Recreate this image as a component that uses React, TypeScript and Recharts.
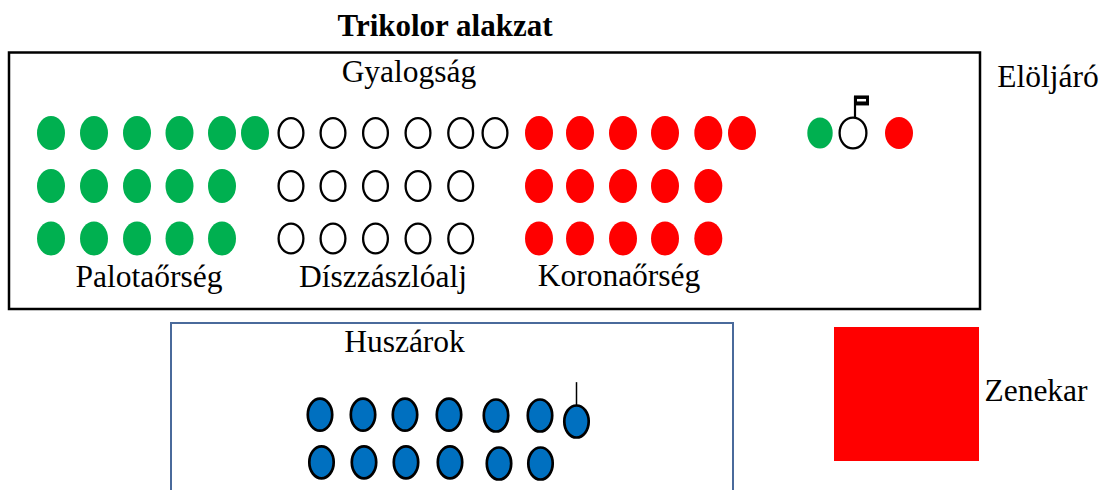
import React from 'react';
import { ScatterChart, Scatter, XAxis, YAxis, ReferenceArea } from 'recharts';

// ---- data (diagram coordinates) ----
const palotaorseg = [
  { x: 51, y: 133 }, { x: 94, y: 133 }, { x: 137, y: 133 }, { x: 179.5, y: 133 }, { x: 222, y: 133 }, { x: 255, y: 133 },
  { x: 51, y: 186 }, { x: 94, y: 186 }, { x: 137, y: 186 }, { x: 179.5, y: 186 }, { x: 222, y: 186 },
  { x: 51, y: 238.5 }, { x: 94, y: 238.5 }, { x: 137, y: 238.5 }, { x: 179.5, y: 238.5 }, { x: 222, y: 238.5 },
];
const diszzaszloalj = [
  { x: 291, y: 133 }, { x: 333, y: 133 }, { x: 375.5, y: 133 }, { x: 418, y: 133 }, { x: 460.7, y: 133 }, { x: 495, y: 133 },
  { x: 291, y: 186 }, { x: 333, y: 186 }, { x: 375.5, y: 186 }, { x: 418, y: 186 }, { x: 460.7, y: 186 },
  { x: 291, y: 238.5 }, { x: 333, y: 238.5 }, { x: 375.5, y: 238.5 }, { x: 418, y: 238.5 }, { x: 460.7, y: 238.5 },
];
const koronaorseg = [
  { x: 539, y: 133 }, { x: 580, y: 133 }, { x: 623, y: 133 }, { x: 665, y: 133 }, { x: 708.3, y: 133 }, { x: 742, y: 133 },
  { x: 539, y: 186 }, { x: 580, y: 186 }, { x: 623, y: 186 }, { x: 665, y: 186 }, { x: 708.3, y: 186 },
  { x: 539, y: 238.5 }, { x: 580, y: 238.5 }, { x: 623, y: 238.5 }, { x: 665, y: 238.5 }, { x: 708.3, y: 238.5 },
];
const eloljaroGreen = [{ x: 820, y: 133 }];
const eloljaroWhite = [{ x: 853, y: 133, flag: true }];
const eloljaroRed = [{ x: 899, y: 133 }];
const huszarok = [
  { x: 320, y: 414.7 }, { x: 363, y: 414.7 }, { x: 405, y: 414.7 }, { x: 449, y: 414.7 }, { x: 496, y: 415.5 }, { x: 540, y: 415.5 },
  { x: 576.5, y: 421.5, flag: true },
  { x: 321.5, y: 462.3 }, { x: 364, y: 462.3 }, { x: 406, y: 462.3 }, { x: 450, y: 462.3 }, { x: 499, y: 463.5 }, { x: 540.5, y: 463.5 },
];

const titleLabel = [{ x: 445, y: 36, text: 'Trikolor alakzat' }];
const groupLabels = [
  { x: 409, y: 82, text: 'Gyalogság' },
  { x: 149, y: 287, text: 'Palotaőrség' },
  { x: 383, y: 287, text: 'Díszzászlóalj' },
  { x: 619, y: 286, text: 'Koronaőrség' },
  { x: 1048, y: 87, text: 'Elöljáró' },
  { x: 404.5, y: 352, text: 'Huszárok' },
  { x: 1036, y: 401, text: 'Zenekar' },
];

const infantryBox = { x1: 9, x2: 980, y1: 52.5, y2: 309 };
const hussarBox = { x1: 171, x2: 733, y1: 323, y2: 500 };
const bandBox = { x1: 834, x2: 979, y1: 327, y2: 461 };

// ---- styles ----
const GREEN = '#00B050';
const RED = '#FF0000';
const BLUE = '#0070C0';
const FONT = "'Liberation Serif', 'Times New Roman', serif";

const makeEllipse = (rx: number, ry: number, fill: string, stroke: string, sw: number) => (props: any) => {
  const { cx, cy, payload } = props;
  if (cx == null || cy == null) return <g />;
  const top = cy - ry - sw / 2;
  return (
    <g>
      <ellipse cx={cx} cy={cy} rx={rx} ry={ry} fill={fill} stroke={stroke} strokeWidth={sw} />
      {payload && payload.flag && fill === '#FFFFFF' ? (
        <g>
          <line x1={cx + 2} x2={cx + 2} y1={top + 1} y2={top - 20} stroke="#000" strokeWidth={2.2} />
          <rect x={cx + 1} y={top - 21} width={15} height={10} fill="#000" />
          <rect x={cx + 4} y={top - 17.5} width={9} height={2.5} fill="#fff" />
        </g>
      ) : null}
      {payload && payload.flag && fill !== '#FFFFFF' ? (
        <line x1={cx} x2={cx} y1={top + 1} y2={top - 22} stroke="#000" strokeWidth={1.5} />
      ) : null}
    </g>
  );
};

const makeText = (size: number, weight: string) => (props: any) => {
  const { cx, cy, payload } = props;
  if (cx == null || cy == null) return <g />;
  return (
    <text x={cx} y={cy} textAnchor="middle" fontFamily={FONT} fontSize={size} fontWeight={weight} fill="#000">
      {payload.text}
    </text>
  );
};

export default function App() {
  return (
    <div style={{ position: 'absolute', left: 0, top: 0, background: '#fff' }}>
      <ScatterChart width={1107} height={490} margin={{ top: 0, right: 0, bottom: 0, left: 0 }}>
        <XAxis type="number" dataKey="x" domain={[0, 1107]} scale="linear" allowDataOverflow hide />
        <YAxis type="number" dataKey="y" domain={[0, 490]} scale="linear" allowDataOverflow reversed hide />
        <ReferenceArea {...infantryBox} ifOverflow="visible" fill="none" fillOpacity={0} stroke="#000" strokeWidth={2.5} />
        <ReferenceArea {...hussarBox} ifOverflow="visible" fill="none" fillOpacity={0} stroke="#4A6A9B" strokeWidth={2} />
        <ReferenceArea {...bandBox} ifOverflow="visible" fill={RED} fillOpacity={1} stroke="none" />
        <Scatter data={palotaorseg} isAnimationActive={false} shape={makeEllipse(14, 17, GREEN, 'none', 0)} />
        <Scatter data={diszzaszloalj} isAnimationActive={false} shape={makeEllipse(12.4, 14.9, '#FFFFFF', '#000', 2.3)} />
        <Scatter data={koronaorseg} isAnimationActive={false} shape={makeEllipse(14, 17, RED, 'none', 0)} />
        <Scatter data={eloljaroGreen} isAnimationActive={false} shape={makeEllipse(12.7, 15.6, GREEN, 'none', 0)} />
        <Scatter data={eloljaroWhite} isAnimationActive={false} shape={makeEllipse(13.4, 15.4, '#FFFFFF', '#000', 2.3)} />
        <Scatter data={eloljaroRed} isAnimationActive={false} shape={makeEllipse(14, 16, RED, 'none', 0)} />
        <Scatter data={huszarok} isAnimationActive={false} shape={makeEllipse(12.2, 16, BLUE, '#000', 2.7)} />
        <Scatter data={titleLabel} isAnimationActive={false} shape={makeText(31, 'bold')} />
        <Scatter data={groupLabels} isAnimationActive={false} shape={makeText(31.5, 'normal')} />
      </ScatterChart>
    </div>
  );
}
